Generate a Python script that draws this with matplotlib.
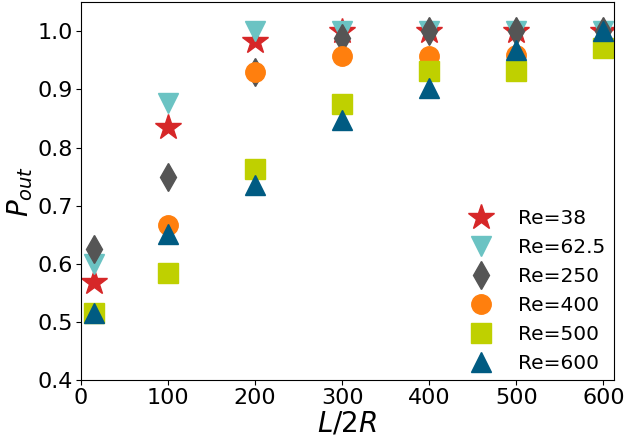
import matplotlib
matplotlib.use("Agg")
import matplotlib.pyplot as plt

# L/2R positions
lengths = [15, 100, 200, 300, 400, 500, 600]

# P_out for each Reynolds number
p_re38 = [0.569, 0.835, 0.983, 1.0, 1.0, 1.0, 1.0]
p_re62 = [0.600, 0.877, 1.0, 1.0, 1.0, 1.0, 1.0]
p_re250 = [0.625, 0.750, 0.930, 0.988, 1.0, 1.0, 1.0]
p_re400 = [0.515, 0.667, 0.930, 0.958, 0.958, 0.960, 0.972]
p_re500 = [0.515, 0.584, 0.763, 0.875, 0.931, 0.931, 0.972]
p_re600 = [0.515, 0.651, 0.735, 0.847, 0.902, 0.967, 1.0]

labels = ["Re=38", "Re=62.5", "Re=250", "Re=400", "Re=500", "Re=600"]

fig = plt.figure(figsize=(6.27, 4.37), dpi=100)
ax = fig.add_subplot(111)
fig.subplots_adjust(left=0.129, right=0.979, top=0.995, bottom=0.130)

ax.plot(lengths, p_re38, linestyle="none", marker="*", markersize=19,
        color="#d62728", label=labels[0])
ax.plot(lengths, p_re62, linestyle="none", marker="v", markersize=14,
        color="#6bc3c3", label=labels[1])
ax.plot(lengths, p_re250, linestyle="none", marker="d", markersize=14,
        color="#555555", label=labels[2])
ax.plot(lengths, p_re400, linestyle="none", marker="o", markersize=14,
        color="#ff7f0e", label=labels[3])
ax.plot(lengths, p_re500, linestyle="none", marker="s", markersize=14,
        color="#bfd000", label=labels[4])
ax.plot(lengths, p_re600, linestyle="none", marker="^", markersize=14,
        color="#005b82", label=labels[5])

ax.set_xlim(0, 612)
ax.set_ylim(0.4, 1.05)
ax.set_xticks([0, 100, 200, 300, 400, 500, 600])
ax.set_yticks([0.4, 0.5, 0.6, 0.7, 0.8, 0.9, 1.0])
ax.tick_params(labelsize=16, pad=2)
ax.set_xlabel("$L/2R$", fontsize=20, labelpad=1)
ax.set_ylabel("$P_{out}$", fontsize=20, labelpad=2)

ax.legend(loc="lower right", frameon=False, fontsize=14.5,
          bbox_to_anchor=(1.017, -0.03))

fig.savefig("out.png", dpi=100)
